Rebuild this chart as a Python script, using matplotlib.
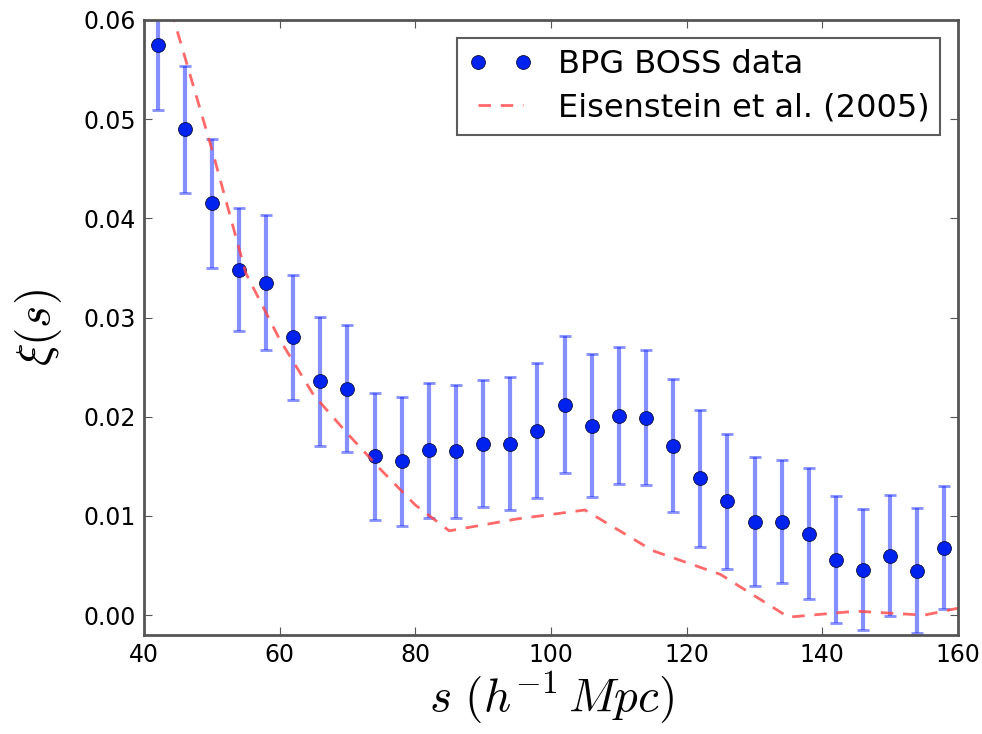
"""
Two-point correlation function of BOSS galaxies vs. Eisenstein et al. model
"""
import numpy as np
import matplotlib
matplotlib.use('Agg')
import matplotlib.pyplot as plt

plt.rcParams['mathtext.fontset'] = 'cm'
plt.rcParams['xtick.direction'] = 'in'
plt.rcParams['ytick.direction'] = 'in'

# Measured correlation function (h^-1 Mpc bins)
s_data = [42, 46, 50, 54, 58, 62, 66, 70, 74, 78, 82, 86, 90, 94, 98,
          102, 106, 110, 114, 118, 122, 126, 130, 134, 138, 142, 146, 150, 154, 158]
xi_data = [0.0575, 0.0490, 0.0415, 0.0348, 0.0335, 0.0280, 0.0236, 0.0228, 0.0160, 0.0155,
           0.0166, 0.0165, 0.0173, 0.0173, 0.0186, 0.0212, 0.0191, 0.0201, 0.0199, 0.0171,
           0.0138, 0.0115, 0.0094, 0.0094, 0.0082, 0.0056, 0.0046, 0.0060, 0.0045, 0.0068]
xi_err = [0.0066, 0.0064, 0.0065, 0.0062, 0.0068, 0.0063, 0.0065, 0.0064, 0.0064, 0.0065,
          0.0068, 0.0067, 0.0064, 0.0067, 0.0068, 0.0069, 0.0072, 0.0069, 0.0068, 0.0067,
          0.0069, 0.0068, 0.0065, 0.0062, 0.0066, 0.0064, 0.0061, 0.0061, 0.0063, 0.0062]

# Model curve
s_model = [44, 50, 55, 60, 65, 70, 75, 80, 85, 95, 105, 115, 125, 135, 145, 155, 160]
xi_model = [0.0610, 0.0470, 0.0345, 0.0278, 0.0222, 0.0183, 0.0146, 0.0111, 0.0085,
            0.0097, 0.0106, 0.0065, 0.0041, -0.0002, 0.0004, 0.0000, 0.0007]

fig = plt.figure(figsize=(9.82, 7.34), dpi=100)
ax = fig.add_axes([0.1466, 0.1349, 0.8290, 0.8379])

ax.errorbar(s_data, xi_data, yerr=xi_err, fmt='none', ecolor='#2233ff', alpha=0.55,
            elinewidth=3, capsize=4, capthick=2)
ax.plot(s_data, xi_data, 'o', color='#0022ee', markeredgecolor='#101040',
        markeredgewidth=0.6, markersize=10, label='BPG BOSS data')
ax.plot(s_model, xi_model, '--', color='#ff4444', alpha=0.8, linewidth=2,
        dashes=(4.5, 3.5), label='Eisenstein et al. (2005)')

ax.set_xlim(40, 160)
ax.set_ylim(-0.002, 0.06)
ax.set_yticks([0.00, 0.01, 0.02, 0.03, 0.04, 0.05, 0.06])
ax.yaxis.set_major_formatter(matplotlib.ticker.FormatStrFormatter('%.2f'))
ax.tick_params(labelsize=17, top=True, right=True, length=6, color='#555555', pad=6)
for sp in ax.spines.values():
    sp.set_linewidth(2)
    sp.set_color('#555555')

ax.set_xlabel(r'$s\ (h^{-1}\,Mpc)$', fontsize=34, labelpad=2)
ax.set_ylabel(r'$\xi(s)$', fontsize=34, labelpad=14)

leg = ax.legend(loc='upper right', numpoints=2, fontsize=23, fancybox=False,
                handlelength=2.0, handletextpad=0.8, borderpad=0.35,
                labelspacing=0.4, borderaxespad=0.55)
leg.get_frame().set_edgecolor('#333333')
leg.get_frame().set_linewidth(1.5)

plt.savefig('out.png', dpi=100)
